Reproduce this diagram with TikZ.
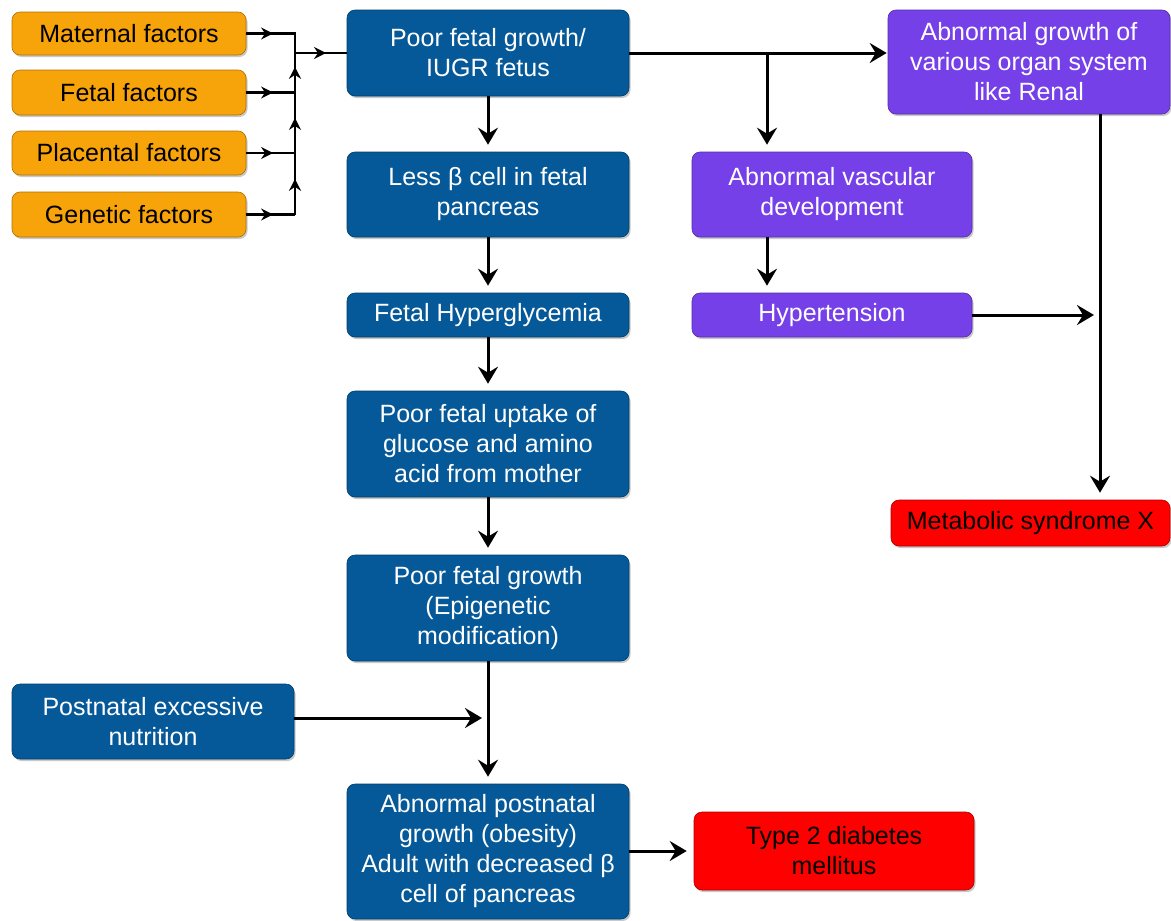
\documentclass[tikz,border=0pt]{standalone}
\usepackage{fontspec}
\setmainfont{Liberation Sans}
\usetikzlibrary{arrows.meta,shadows,decorations.markings}
\definecolor{orng}{RGB}{247,163,10}
\definecolor{blu}{RGB}{6,89,152}
\definecolor{purp}{RGB}{118,64,233}
\definecolor{rd}{RGB}{255,0,0}
\tikzset{
  box/.style={rounded corners=8pt, inner sep=0pt, align=center,
    font=\fontsize{25}{30}\selectfont,
    drop shadow={shadow xshift=1.5pt, shadow yshift=-2pt, opacity=0.35, fill=black!60}},
  obox/.style={box, fill=orng, draw=orng!70!black, line width=0.6pt, text=black},
  bbox/.style={box, fill=blu, draw=blu!70!black, line width=0.6pt, text=white},
  pbox/.style={box, fill=purp, draw=purp!70!black, line width=0.6pt, text=white},
  rbox/.style={box, fill=rd, draw=rd!70!black, line width=0.6pt, text=black},
  conn/.style={line width=3pt, -{Stealth[length=17pt,width=20pt,inset=6pt]}, shorten >=7pt},
  buswire/.style={line width=2.5pt},
  midarrow/.style={buswire, postaction={decorate},
    decoration={markings, mark=at position #1 with {\arrow{Stealth[length=12pt,width=12pt,inset=4pt]}}}},
}
\begin{document}
\begin{tikzpicture}[x=1pt,y=-1pt]
\useasboundingbox (0,0) rectangle (1171,921);
\fill[white] (0,0) rectangle (1171,921);
% factor boxes
\node[obox, minimum width=234pt, minimum height=43pt] (mat) at (129,33.5) {Maternal factors};
\node[obox, minimum width=234pt, minimum height=45pt] (fet) at (129,92.5) {Fetal factors};
\node[obox, minimum width=234pt, minimum height=44pt] (pla) at (129,153) {Placental factors};
\node[obox, minimum width=234pt, minimum height=45pt] (gen) at (129,214.5) {Genetic factors};
% main column
\node[bbox, minimum width=282pt, minimum height=86pt] (iugr) at (488,53) {Poor fetal growth/\\IUGR fetus};
\node[bbox, minimum width=282pt, minimum height=85pt] (less) at (488,194.5) {Less β cell in fetal\\pancreas};
\node[bbox, minimum width=282pt, minimum height=44pt] (hgly) at (488,315) {Fetal Hyperglycemia};
\node[bbox, minimum width=282pt, minimum height=106pt] (upt) at (488,444) {Poor fetal uptake of\\glucose and amino\\acid from mother};
\node[bbox, minimum width=282pt, minimum height=106pt] (epi) at (488,608) {Poor fetal growth\\(Epigenetic\\modification)};
\node[bbox, minimum width=282pt, minimum height=75pt] (post) at (153,721.5) {Postnatal excessive\\nutrition};
\node[bbox, minimum width=282pt, minimum height=135pt] (abn) at (488,851.5) {Abnormal postnatal\\growth (obesity)\\Adult with decreased β\\cell of pancreas};
\node[rbox, minimum width=280pt, minimum height=78pt] (t2d) at (834,851) {Type 2 diabetes\\mellitus};
% right side
\node[pbox, minimum width=280pt, minimum height=85pt] (vasc) at (832,194.5) {Abnormal vascular\\development};
\node[pbox, minimum width=280pt, minimum height=44pt] (hyp) at (832,315) {Hypertension};
\node[pbox, minimum width=282pt, minimum height=104pt] (org) at (1029,62) {Abnormal growth of\\various organ system\\like Renal};
\node[rbox, minimum width=279pt, minimum height=46pt] (met) at (1030.5,523) {Metabolic syndrome X};
% factor bus
\coordinate (busM) at (295,33.5);
\coordinate (busF) at (295,92.5);
\coordinate (busP) at (295,153);
\coordinate (busG) at (295,214.5);
\coordinate (busJ) at (295,53);
\draw[midarrow=0.55] (mat.east) -- (busM);
\draw[midarrow=0.55] (fet.east) -- (busF);
\draw[midarrow=0.55] (pla.east) -- (busP);
\draw[midarrow=0.55] (gen.east) -- (busG);
\draw[midarrow=0.58] (busG) -- (busP);
\draw[midarrow=0.58] (busP) -- (busF);
\draw[midarrow=0.65] (busF) -- (busJ);
\draw[buswire, line cap=rect] (busJ) -- (busM);
\draw[midarrow=0.6] (busJ) -- (iugr.west);
% main column arrows
\draw[conn] (iugr.south) -- (less.north);
\draw[conn] (less.south) -- (hgly.north);
\draw[conn] (hgly.south) -- (upt.north);
\draw[conn] (upt.south) -- (epi.north);
\draw[conn] (epi.south) -- (abn.north);
\coordinate (pj) at (482,718);
\draw[conn, shorten >=0pt] (post.east |- pj) -- (pj);
\draw[conn] (abn.east |- t2d.west) -- (t2d.west);
% right branch
\coordinate (br) at (767,53);
\draw[conn, shorten >=1pt] (iugr.east) -- (org.west |- br);
\draw[conn] (br) -- (br |- vasc.north);
\draw[conn] (br |- vasc.south) -- (br |- hyp.north);
\coordinate (vx) at (1100,315);
\draw[conn] (vx |- org.south) -- (vx |- met.north);
\coordinate (hj) at (1094,315);
\draw[conn, shorten >=0pt] (hyp.east) -- (hj);
\end{tikzpicture}
\end{document}
